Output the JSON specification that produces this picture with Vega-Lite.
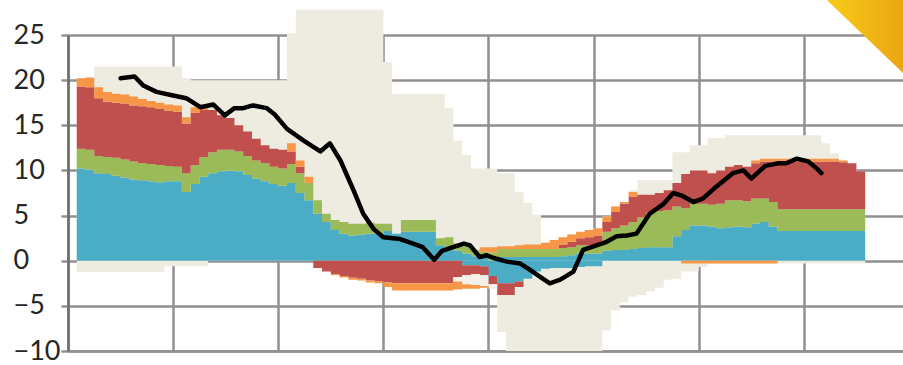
{
  "$schema": "https://vega.github.io/schema/vega-lite/v6.json",
  "width": 835,
  "height": 316,
  "autosize": "none",
  "padding": {"left": 68, "top": 35, "right": 0, "bottom": 14},
  "background": "white",
  "config": {
    "view": {"stroke": null},
    "axisY": {
      "grid": true, "gridColor": "#909090", "gridWidth": 2.5,
      "domain": true, "domainColor": "#6E6E6E", "domainWidth": 2.5,
      "ticks": true, "tickSize": 7, "tickColor": "#909090", "tickWidth": 2.5,
      "labelAlign": "left", "labelPadding": 48, "labelBaseline": "middle",
      "labelFont": "Lato", "labelFontSize": 27, "labelColor": "#262626",
      "title": null
    },
    "axisX": {
      "grid": true, "gridColor": "#909090", "gridWidth": 2.5,
      "domain": true, "domainColor": "#909090", "domainWidth": 2.5,
      "ticks": false, "labels": false, "title": null
    }
  },
  "datasets": {
    "steps": [
      {"i":1,"s1_blue":10.2,"s2_green":2.2,"s3_red":6.9,"s4_orange":0.9,"s5_blue_neg":0,"s6_red_neg":0,"s7_pale_neg":0,"s8_orange_neg":0,"lo":-1.25,"hi":20.2},
      {"i":2,"s1_blue":10.1,"s2_green":2.2,"s3_red":6.9,"s4_orange":1.1,"s5_blue_neg":0,"s6_red_neg":0,"s7_pale_neg":0,"s8_orange_neg":0,"lo":-1.25,"hi":20.3},
      {"i":3,"s1_blue":9.7,"s2_green":1.9,"s3_red":6.4,"s4_orange":1.2,"s5_blue_neg":0,"s6_red_neg":0,"s7_pale_neg":0,"s8_orange_neg":0,"lo":-1.25,"hi":21.5},
      {"i":4,"s1_blue":9.6,"s2_green":1.9,"s3_red":6.1,"s4_orange":1.1,"s5_blue_neg":0,"s6_red_neg":0,"s7_pale_neg":0,"s8_orange_neg":0,"lo":-1.25,"hi":21.5},
      {"i":5,"s1_blue":9.4,"s2_green":2.0,"s3_red":6.1,"s4_orange":1.0,"s5_blue_neg":0,"s6_red_neg":0,"s7_pale_neg":0,"s8_orange_neg":0,"lo":-1.25,"hi":21.5},
      {"i":6,"s1_blue":9.2,"s2_green":2.0,"s3_red":6.2,"s4_orange":1.0,"s5_blue_neg":0,"s6_red_neg":0,"s7_pale_neg":0,"s8_orange_neg":0,"lo":-1.25,"hi":21.5},
      {"i":7,"s1_blue":9.0,"s2_green":2.0,"s3_red":6.2,"s4_orange":1.0,"s5_blue_neg":0,"s6_red_neg":0,"s7_pale_neg":0,"s8_orange_neg":0,"lo":-1.25,"hi":21.5},
      {"i":8,"s1_blue":8.9,"s2_green":1.9,"s3_red":6.3,"s4_orange":0.8,"s5_blue_neg":0,"s6_red_neg":0,"s7_pale_neg":0,"s8_orange_neg":0,"lo":-1.25,"hi":21.5},
      {"i":9,"s1_blue":8.8,"s2_green":1.9,"s3_red":6.3,"s4_orange":0.7,"s5_blue_neg":0,"s6_red_neg":0,"s7_pale_neg":0,"s8_orange_neg":0,"lo":-1.25,"hi":21.5},
      {"i":10,"s1_blue":8.7,"s2_green":1.9,"s3_red":6.2,"s4_orange":0.7,"s5_blue_neg":0,"s6_red_neg":0,"s7_pale_neg":0,"s8_orange_neg":0,"lo":-1.25,"hi":21.5},
      {"i":11,"s1_blue":8.8,"s2_green":1.7,"s3_red":6.1,"s4_orange":0.7,"s5_blue_neg":0,"s6_red_neg":0,"s7_pale_neg":0,"s8_orange_neg":0,"lo":-0.6,"hi":21.5},
      {"i":12,"s1_blue":8.8,"s2_green":1.6,"s3_red":6.1,"s4_orange":0.7,"s5_blue_neg":0,"s6_red_neg":0,"s7_pale_neg":0,"s8_orange_neg":0,"lo":-0.6,"hi":21.5},
      {"i":13,"s1_blue":7.6,"s2_green":2.1,"s3_red":5.5,"s4_orange":0.7,"s5_blue_neg":0,"s6_red_neg":0,"s7_pale_neg":0,"s8_orange_neg":0,"lo":-0.6,"hi":20.2},
      {"i":14,"s1_blue":8.5,"s2_green":2.1,"s3_red":5.8,"s4_orange":0.6,"s5_blue_neg":0,"s6_red_neg":0,"s7_pale_neg":0,"s8_orange_neg":0,"lo":-0.6,"hi":20.0},
      {"i":15,"s1_blue":9.3,"s2_green":2.2,"s3_red":5.2,"s4_orange":0.3,"s5_blue_neg":0,"s6_red_neg":0,"s7_pale_neg":0,"s8_orange_neg":0,"lo":-0.6,"hi":20.0},
      {"i":16,"s1_blue":9.7,"s2_green":2.3,"s3_red":4.7,"s4_orange":0,"s5_blue_neg":0,"s6_red_neg":0,"s7_pale_neg":0,"s8_orange_neg":0,"lo":0,"hi":20.0},
      {"i":17,"s1_blue":9.9,"s2_green":2.4,"s3_red":3.8,"s4_orange":0,"s5_blue_neg":0,"s6_red_neg":0,"s7_pale_neg":0,"s8_orange_neg":0,"lo":0,"hi":20.0},
      {"i":18,"s1_blue":10.0,"s2_green":2.3,"s3_red":3.5,"s4_orange":0,"s5_blue_neg":0,"s6_red_neg":0,"s7_pale_neg":0,"s8_orange_neg":0,"lo":0,"hi":20.0},
      {"i":19,"s1_blue":9.9,"s2_green":2.2,"s3_red":2.9,"s4_orange":0,"s5_blue_neg":0,"s6_red_neg":0,"s7_pale_neg":0,"s8_orange_neg":0,"lo":0,"hi":20.0},
      {"i":20,"s1_blue":9.5,"s2_green":2.1,"s3_red":2.7,"s4_orange":0,"s5_blue_neg":0,"s6_red_neg":0,"s7_pale_neg":0,"s8_orange_neg":0,"lo":0,"hi":20.0},
      {"i":21,"s1_blue":9.1,"s2_green":2.0,"s3_red":2.4,"s4_orange":0,"s5_blue_neg":0,"s6_red_neg":0,"s7_pale_neg":0,"s8_orange_neg":0,"lo":0,"hi":20.0},
      {"i":22,"s1_blue":8.8,"s2_green":2.0,"s3_red":2.0,"s4_orange":0,"s5_blue_neg":0,"s6_red_neg":0,"s7_pale_neg":0,"s8_orange_neg":0,"lo":0,"hi":20.0},
      {"i":23,"s1_blue":8.5,"s2_green":1.9,"s3_red":2.0,"s4_orange":0,"s5_blue_neg":0,"s6_red_neg":0,"s7_pale_neg":0,"s8_orange_neg":0,"lo":0,"hi":20.0},
      {"i":24,"s1_blue":8.3,"s2_green":1.9,"s3_red":2.1,"s4_orange":0,"s5_blue_neg":0,"s6_red_neg":0,"s7_pale_neg":0,"s8_orange_neg":0,"lo":0,"hi":20.0},
      {"i":25,"s1_blue":8.6,"s2_green":2.1,"s3_red":1.4,"s4_orange":0.9,"s5_blue_neg":0,"s6_red_neg":0,"s7_pale_neg":0,"s8_orange_neg":0,"lo":0,"hi":25.2},
      {"i":26,"s1_blue":7.5,"s2_green":2.2,"s3_red":0.7,"s4_orange":0.7,"s5_blue_neg":0,"s6_red_neg":0,"s7_pale_neg":0,"s8_orange_neg":0,"lo":0,"hi":27.8},
      {"i":27,"s1_blue":6.7,"s2_green":1.9,"s3_red":0,"s4_orange":0.7,"s5_blue_neg":0,"s6_red_neg":0,"s7_pale_neg":0,"s8_orange_neg":0,"lo":0,"hi":27.8},
      {"i":28,"s1_blue":5.2,"s2_green":1.5,"s3_red":0,"s4_orange":0,"s5_blue_neg":0,"s6_red_neg":-0.8,"s7_pale_neg":0,"s8_orange_neg":0,"lo":0,"hi":27.8},
      {"i":29,"s1_blue":4.3,"s2_green":0.9,"s3_red":0,"s4_orange":0,"s5_blue_neg":0,"s6_red_neg":-1.2,"s7_pale_neg":0,"s8_orange_neg":0,"lo":0,"hi":27.8},
      {"i":30,"s1_blue":3.4,"s2_green":1.1,"s3_red":0,"s4_orange":0,"s5_blue_neg":0,"s6_red_neg":-1.5,"s7_pale_neg":0,"s8_orange_neg":-0.1,"lo":0,"hi":27.8},
      {"i":31,"s1_blue":3.0,"s2_green":1.3,"s3_red":0,"s4_orange":0,"s5_blue_neg":0,"s6_red_neg":-1.7,"s7_pale_neg":0,"s8_orange_neg":-0.15,"lo":0,"hi":27.8},
      {"i":32,"s1_blue":2.8,"s2_green":1.3,"s3_red":0,"s4_orange":0,"s5_blue_neg":0,"s6_red_neg":-1.9,"s7_pale_neg":0,"s8_orange_neg":-0.2,"lo":0,"hi":27.8},
      {"i":33,"s1_blue":2.9,"s2_green":1.2,"s3_red":0,"s4_orange":0,"s5_blue_neg":0,"s6_red_neg":-2.0,"s7_pale_neg":0,"s8_orange_neg":-0.2,"lo":0,"hi":27.8},
      {"i":34,"s1_blue":3.0,"s2_green":1.2,"s3_red":0,"s4_orange":0,"s5_blue_neg":0,"s6_red_neg":-2.2,"s7_pale_neg":0,"s8_orange_neg":-0.2,"lo":0,"hi":27.8},
      {"i":35,"s1_blue":3.0,"s2_green":1.1,"s3_red":0,"s4_orange":0,"s5_blue_neg":0,"s6_red_neg":-2.3,"s7_pale_neg":0,"s8_orange_neg":-0.2,"lo":0,"hi":27.8},
      {"i":36,"s1_blue":3.3,"s2_green":0.8,"s3_red":0,"s4_orange":0,"s5_blue_neg":0,"s6_red_neg":-2.4,"s7_pale_neg":0,"s8_orange_neg":-0.5,"lo":0,"hi":22.0},
      {"i":37,"s1_blue":3.0,"s2_green":0,"s3_red":0,"s4_orange":0,"s5_blue_neg":0,"s6_red_neg":-2.5,"s7_pale_neg":0,"s8_orange_neg":-0.8,"lo":0,"hi":18.5},
      {"i":38,"s1_blue":3.2,"s2_green":1.3,"s3_red":0,"s4_orange":0,"s5_blue_neg":0,"s6_red_neg":-2.5,"s7_pale_neg":0,"s8_orange_neg":-0.8,"lo":0,"hi":18.5},
      {"i":39,"s1_blue":3.2,"s2_green":1.3,"s3_red":0,"s4_orange":0,"s5_blue_neg":0,"s6_red_neg":-2.5,"s7_pale_neg":0,"s8_orange_neg":-0.8,"lo":0,"hi":18.5},
      {"i":40,"s1_blue":3.2,"s2_green":1.3,"s3_red":0,"s4_orange":0,"s5_blue_neg":0,"s6_red_neg":-2.5,"s7_pale_neg":0,"s8_orange_neg":-0.8,"lo":0,"hi":18.5},
      {"i":41,"s1_blue":3.2,"s2_green":1.3,"s3_red":0,"s4_orange":0,"s5_blue_neg":0,"s6_red_neg":-2.5,"s7_pale_neg":0,"s8_orange_neg":-0.8,"lo":0,"hi":18.5},
      {"i":42,"s1_blue":1.7,"s2_green":0.8,"s3_red":0,"s4_orange":0,"s5_blue_neg":0,"s6_red_neg":-2.5,"s7_pale_neg":0,"s8_orange_neg":-0.8,"lo":0,"hi":18.5},
      {"i":43,"s1_blue":1.4,"s2_green":1.2,"s3_red":0,"s4_orange":0,"s5_blue_neg":0,"s6_red_neg":-2.5,"s7_pale_neg":0,"s8_orange_neg":-0.8,"lo":0,"hi":16.9},
      {"i":44,"s1_blue":1.1,"s2_green":0.8,"s3_red":0,"s4_orange":0,"s5_blue_neg":0,"s6_red_neg":-1.8,"s7_pale_neg":-0.5,"s8_orange_neg":-0.9,"lo":0,"hi":13.3},
      {"i":45,"s1_blue":0.8,"s2_green":0.8,"s3_red":0,"s4_orange":0,"s5_blue_neg":-0.5,"s6_red_neg":-1.1,"s7_pale_neg":-1.0,"s8_orange_neg":-0.5,"lo":0,"hi":11.7},
      {"i":46,"s1_blue":0.5,"s2_green":0.7,"s3_red":0,"s4_orange":0,"s5_blue_neg":-0.5,"s6_red_neg":-1.0,"s7_pale_neg":-1.2,"s8_orange_neg":-0.4,"lo":0,"hi":10.2},
      {"i":47,"s1_blue":0.4,"s2_green":0.6,"s3_red":0,"s4_orange":0.5,"s5_blue_neg":-0.6,"s6_red_neg":-1.0,"s7_pale_neg":-1.2,"s8_orange_neg":-0.2,"lo":0,"hi":10.2},
      {"i":48,"s1_blue":0,"s2_green":0.9,"s3_red":0,"s4_orange":0.6,"s5_blue_neg":-1.7,"s6_red_neg":-0.9,"s7_pale_neg":-0.5,"s8_orange_neg":0,"lo":0,"hi":10.2},
      {"i":49,"s1_blue":0.4,"s2_green":0.9,"s3_red":0,"s4_orange":0.3,"s5_blue_neg":-2.5,"s6_red_neg":-1.3,"s7_pale_neg":0,"s8_orange_neg":0,"lo":-7.9,"hi":9.7},
      {"i":50,"s1_blue":0.4,"s2_green":0.9,"s3_red":0,"s4_orange":0.3,"s5_blue_neg":-2.5,"s6_red_neg":-1.3,"s7_pale_neg":0,"s8_orange_neg":0,"lo":-10,"hi":9.7},
      {"i":51,"s1_blue":0.4,"s2_green":0.9,"s3_red":0,"s4_orange":0.4,"s5_blue_neg":-2.3,"s6_red_neg":-0.6,"s7_pale_neg":0,"s8_orange_neg":0,"lo":-10,"hi":7.6},
      {"i":52,"s1_blue":0.4,"s2_green":0.9,"s3_red":0,"s4_orange":0.5,"s5_blue_neg":-2.0,"s6_red_neg":0,"s7_pale_neg":0,"s8_orange_neg":0,"lo":-10,"hi":6.4},
      {"i":53,"s1_blue":0.4,"s2_green":0.9,"s3_red":0,"s4_orange":0.5,"s5_blue_neg":-1.2,"s6_red_neg":0,"s7_pale_neg":0,"s8_orange_neg":0,"lo":-10,"hi":5.1},
      {"i":54,"s1_blue":0.4,"s2_green":0.9,"s3_red":0,"s4_orange":0.7,"s5_blue_neg":-0.9,"s6_red_neg":0,"s7_pale_neg":0,"s8_orange_neg":0,"lo":-10,"hi":2.0},
      {"i":55,"s1_blue":0.4,"s2_green":0.9,"s3_red":0,"s4_orange":1.0,"s5_blue_neg":-0.8,"s6_red_neg":0,"s7_pale_neg":0,"s8_orange_neg":0,"lo":-10,"hi":2.3},
      {"i":56,"s1_blue":0.5,"s2_green":0.9,"s3_red":0.4,"s4_orange":0.8,"s5_blue_neg":-0.8,"s6_red_neg":0,"s7_pale_neg":0,"s8_orange_neg":0,"lo":-10,"hi":2.6},
      {"i":57,"s1_blue":0.6,"s2_green":0.9,"s3_red":0.6,"s4_orange":0.8,"s5_blue_neg":-0.8,"s6_red_neg":0,"s7_pale_neg":0,"s8_orange_neg":0,"lo":-10,"hi":2.9},
      {"i":58,"s1_blue":0.8,"s2_green":0.9,"s3_red":0.8,"s4_orange":0.7,"s5_blue_neg":-0.7,"s6_red_neg":0,"s7_pale_neg":0,"s8_orange_neg":0,"lo":-10,"hi":3.2},
      {"i":59,"s1_blue":0.8,"s2_green":0.9,"s3_red":0.9,"s4_orange":0.8,"s5_blue_neg":-0.6,"s6_red_neg":0,"s7_pale_neg":0,"s8_orange_neg":0,"lo":-10,"hi":3.4},
      {"i":60,"s1_blue":0.8,"s2_green":0.9,"s3_red":1.1,"s4_orange":0.8,"s5_blue_neg":-0.6,"s6_red_neg":0,"s7_pale_neg":0,"s8_orange_neg":0,"lo":-10,"hi":3.6},
      {"i":61,"s1_blue":1.1,"s2_green":2.1,"s3_red":1.1,"s4_orange":0.6,"s5_blue_neg":0,"s6_red_neg":0,"s7_pale_neg":0,"s8_orange_neg":0,"lo":-7.7,"hi":4.9},
      {"i":62,"s1_blue":1.2,"s2_green":2.4,"s3_red":1.8,"s4_orange":0.6,"s5_blue_neg":0,"s6_red_neg":0,"s7_pale_neg":0,"s8_orange_neg":0,"lo":-5.5,"hi":6.0},
      {"i":63,"s1_blue":1.2,"s2_green":2.7,"s3_red":2.4,"s4_orange":0.2,"s5_blue_neg":0,"s6_red_neg":0,"s7_pale_neg":0,"s8_orange_neg":0,"lo":-4.6,"hi":6.5},
      {"i":64,"s1_blue":1.3,"s2_green":3.0,"s3_red":2.8,"s4_orange":0.5,"s5_blue_neg":0,"s6_red_neg":0,"s7_pale_neg":0,"s8_orange_neg":0,"lo":-4.0,"hi":7.8},
      {"i":65,"s1_blue":1.4,"s2_green":3.4,"s3_red":2.5,"s4_orange":0,"s5_blue_neg":0,"s6_red_neg":0,"s7_pale_neg":0,"s8_orange_neg":0,"lo":-3.8,"hi":8.9},
      {"i":66,"s1_blue":1.5,"s2_green":3.8,"s3_red":2.0,"s4_orange":0,"s5_blue_neg":0,"s6_red_neg":0,"s7_pale_neg":0,"s8_orange_neg":0,"lo":-3.4,"hi":8.9},
      {"i":67,"s1_blue":1.5,"s2_green":4.0,"s3_red":2.0,"s4_orange":0,"s5_blue_neg":0,"s6_red_neg":0,"s7_pale_neg":0,"s8_orange_neg":0,"lo":-3.0,"hi":8.9},
      {"i":68,"s1_blue":1.5,"s2_green":4.1,"s3_red":2.2,"s4_orange":0,"s5_blue_neg":0,"s6_red_neg":0,"s7_pale_neg":0,"s8_orange_neg":0,"lo":-2.1,"hi":8.9},
      {"i":69,"s1_blue":2.7,"s2_green":3.3,"s3_red":2.6,"s4_orange":0,"s5_blue_neg":0,"s6_red_neg":0,"s7_pale_neg":0,"s8_orange_neg":0,"lo":-2.0,"hi":12.0},
      {"i":70,"s1_blue":3.4,"s2_green":2.4,"s3_red":3.8,"s4_orange":0,"s5_blue_neg":0,"s6_red_neg":0,"s7_pale_neg":0,"s8_orange_neg":-0.3,"lo":-1.2,"hi":12.0},
      {"i":71,"s1_blue":3.9,"s2_green":2.4,"s3_red":3.7,"s4_orange":0,"s5_blue_neg":0,"s6_red_neg":0,"s7_pale_neg":0,"s8_orange_neg":-0.3,"lo":-1.2,"hi":12.8},
      {"i":72,"s1_blue":3.9,"s2_green":2.4,"s3_red":3.7,"s4_orange":0,"s5_blue_neg":0,"s6_red_neg":0,"s7_pale_neg":0,"s8_orange_neg":-0.3,"lo":-0.7,"hi":12.8},
      {"i":73,"s1_blue":3.8,"s2_green":2.4,"s3_red":3.5,"s4_orange":0,"s5_blue_neg":0,"s6_red_neg":0,"s7_pale_neg":0,"s8_orange_neg":-0.3,"lo":-0.3,"hi":13.6},
      {"i":74,"s1_blue":3.6,"s2_green":2.7,"s3_red":3.7,"s4_orange":0,"s5_blue_neg":0,"s6_red_neg":0,"s7_pale_neg":0,"s8_orange_neg":-0.3,"lo":-0.3,"hi":13.6},
      {"i":75,"s1_blue":3.7,"s2_green":3.0,"s3_red":3.7,"s4_orange":0,"s5_blue_neg":0,"s6_red_neg":0,"s7_pale_neg":0,"s8_orange_neg":-0.3,"lo":-0.3,"hi":13.9},
      {"i":76,"s1_blue":3.8,"s2_green":2.9,"s3_red":3.9,"s4_orange":0,"s5_blue_neg":0,"s6_red_neg":0,"s7_pale_neg":0,"s8_orange_neg":-0.3,"lo":-0.3,"hi":13.9},
      {"i":77,"s1_blue":3.7,"s2_green":2.9,"s3_red":3.8,"s4_orange":0,"s5_blue_neg":0,"s6_red_neg":0,"s7_pale_neg":0,"s8_orange_neg":-0.3,"lo":-0.3,"hi":13.9},
      {"i":78,"s1_blue":4.1,"s2_green":2.8,"s3_red":3.9,"s4_orange":0.3,"s5_blue_neg":0,"s6_red_neg":0,"s7_pale_neg":0,"s8_orange_neg":-0.3,"lo":-0.3,"hi":13.9},
      {"i":79,"s1_blue":4.3,"s2_green":2.6,"s3_red":4.1,"s4_orange":0.3,"s5_blue_neg":0,"s6_red_neg":0,"s7_pale_neg":0,"s8_orange_neg":-0.3,"lo":-0.3,"hi":13.9},
      {"i":80,"s1_blue":3.8,"s2_green":2.7,"s3_red":4.5,"s4_orange":0.3,"s5_blue_neg":0,"s6_red_neg":0,"s7_pale_neg":0,"s8_orange_neg":-0.3,"lo":-0.3,"hi":13.9},
      {"i":81,"s1_blue":3.3,"s2_green":2.4,"s3_red":5.3,"s4_orange":0.3,"s5_blue_neg":0,"s6_red_neg":0,"s7_pale_neg":0,"s8_orange_neg":0,"lo":-0.3,"hi":13.9},
      {"i":82,"s1_blue":3.3,"s2_green":2.4,"s3_red":5.3,"s4_orange":0.3,"s5_blue_neg":0,"s6_red_neg":0,"s7_pale_neg":0,"s8_orange_neg":0,"lo":-0.3,"hi":13.9},
      {"i":83,"s1_blue":3.3,"s2_green":2.4,"s3_red":5.3,"s4_orange":0.3,"s5_blue_neg":0,"s6_red_neg":0,"s7_pale_neg":0,"s8_orange_neg":0,"lo":-0.3,"hi":13.9},
      {"i":84,"s1_blue":3.3,"s2_green":2.4,"s3_red":5.3,"s4_orange":0.3,"s5_blue_neg":0,"s6_red_neg":0,"s7_pale_neg":0,"s8_orange_neg":0,"lo":-0.3,"hi":13.9},
      {"i":85,"s1_blue":3.3,"s2_green":2.4,"s3_red":5.3,"s4_orange":0.3,"s5_blue_neg":0,"s6_red_neg":0,"s7_pale_neg":0,"s8_orange_neg":0,"lo":-0.3,"hi":13.9},
      {"i":86,"s1_blue":3.3,"s2_green":2.4,"s3_red":5.3,"s4_orange":0.3,"s5_blue_neg":0,"s6_red_neg":0,"s7_pale_neg":0,"s8_orange_neg":0,"lo":-0.3,"hi":13.0},
      {"i":87,"s1_blue":3.3,"s2_green":2.4,"s3_red":5.3,"s4_orange":0.3,"s5_blue_neg":0,"s6_red_neg":0,"s7_pale_neg":0,"s8_orange_neg":0,"lo":-0.3,"hi":11.9},
      {"i":88,"s1_blue":3.3,"s2_green":2.4,"s3_red":5.2,"s4_orange":0.2,"s5_blue_neg":0,"s6_red_neg":0,"s7_pale_neg":0,"s8_orange_neg":0,"lo":-0.3,"hi":11.1},
      {"i":89,"s1_blue":3.3,"s2_green":2.4,"s3_red":5.1,"s4_orange":0,"s5_blue_neg":0,"s6_red_neg":0,"s7_pale_neg":0,"s8_orange_neg":0,"lo":-0.3,"hi":10.8},
      {"i":90,"s1_blue":3.3,"s2_green":2.4,"s3_red":4.2,"s4_orange":0,"s5_blue_neg":0,"s6_red_neg":0,"s7_pale_neg":0,"s8_orange_neg":0,"lo":-0.3,"hi":9.9},
      {"i":91,"s1_blue":3.3,"s2_green":2.4,"s3_red":4.2,"s4_orange":0,"s5_blue_neg":0,"s6_red_neg":0,"s7_pale_neg":0,"s8_orange_neg":0,"lo":-0.3,"hi":9.9}
    ],
    "trend": [
      {"t":6.0,"v":20.2},{"t":7.6,"v":20.4},{"t":8.6,"v":19.4},{"t":10.1,"v":18.7},
      {"t":12.0,"v":18.3},{"t":13.5,"v":18.0},{"t":15.1,"v":17.0},{"t":16.6,"v":17.3},
      {"t":17.9,"v":16.1},{"t":19.0,"v":16.9},{"t":20.0,"v":16.9},{"t":21.1,"v":17.2},
      {"t":22.7,"v":16.9},{"t":23.6,"v":16.2},{"t":25.0,"v":14.6},{"t":26.9,"v":13.3},
      {"t":28.8,"v":12.1},{"t":29.9,"v":13.0},{"t":31.1,"v":11.1},{"t":32.6,"v":7.8},
      {"t":33.7,"v":5.2},{"t":34.9,"v":3.5},{"t":36.0,"v":2.6},{"t":37.9,"v":2.4},
      {"t":39.4,"v":1.9},{"t":40.5,"v":1.5},{"t":41.8,"v":0.1},{"t":42.7,"v":1.1},
      {"t":43.6,"v":1.4},{"t":45.2,"v":1.9},{"t":45.9,"v":1.7},{"t":47.0,"v":0.4},
      {"t":47.8,"v":0.6},{"t":48.6,"v":0.3},{"t":50.1,"v":-0.1},{"t":51.6,"v":-0.3},
      {"t":52.7,"v":-1.0},{"t":53.9,"v":-1.8},{"t":55.0,"v":-2.5},{"t":56.2,"v":-2.1},
      {"t":57.7,"v":-1.2},{"t":58.8,"v":1.2},{"t":60.0,"v":1.6},{"t":61.5,"v":2.1},
      {"t":62.6,"v":2.7},{"t":63.8,"v":2.8},{"t":64.9,"v":3.0},{"t":66.4,"v":5.2},
      {"t":68.0,"v":6.3},{"t":69.1,"v":7.5},{"t":70.1,"v":7.2},{"t":71.4,"v":6.5},
      {"t":72.5,"v":6.9},{"t":74.0,"v":8.2},{"t":75.9,"v":9.7},{"t":77.1,"v":10.0},
      {"t":78.0,"v":9.1},{"t":79.6,"v":10.5},{"t":81.1,"v":10.8},{"t":82.0,"v":10.8},
      {"t":83.2,"v":11.3},{"t":84.5,"v":11.0},{"t":85.5,"v":10.2},{"t":86.0,"v":9.7}
    ],
    "corner": [
      {"t":86.6,"edge":28.9,"top":30},
      {"t":95.32,"edge":20.8,"top":30}
    ]
  },
  "layer": [
    {
      "data": {"name": "steps"},
      "mark": {"type": "area", "interpolate": "step-after", "color": "#EEECE1"},
      "encoding": {
        "x": {"field": "i", "type": "quantitative",
              "scale": {"domain": [0, 95.32], "nice": false, "zero": false},
              "axis": {"values": [0, 12, 24, 36, 48, 60, 72, 84]}},
        "y": {"field": "lo", "type": "quantitative",
              "scale": {"domain": [-10, 25], "nice": false},
              "axis": {"values": [-10, -5, 0, 5, 10, 15, 20, 25]}},
        "y2": {"field": "hi"}
      }
    },
    {
      "data": {"name": "steps"},
      "transform": [
        {"fold": ["s1_blue", "s2_green", "s3_red", "s4_orange", "s5_blue_neg", "s6_red_neg", "s7_pale_neg", "s8_orange_neg"],
         "as": ["series", "value"]}
      ],
      "mark": {"type": "area", "interpolate": "step-after"},
      "encoding": {
        "x": {"field": "i", "type": "quantitative"},
        "y": {"field": "value", "type": "quantitative", "stack": "zero"},
        "color": {
          "field": "series", "type": "nominal", "legend": null,
          "scale": {
            "domain": ["s1_blue", "s2_green", "s3_red", "s4_orange", "s5_blue_neg", "s6_red_neg", "s7_pale_neg", "s8_orange_neg"],
            "range": ["#4BACC6", "#9BBB59", "#C0504D", "#F79646", "#4BACC6", "#C0504D", "#F3F1EA", "#F79646"]
          }
        },
        "order": {"field": "series", "sort": "ascending"}
      }
    },
    {
      "data": {"name": "trend"},
      "mark": {"type": "line", "color": "#000000", "strokeWidth": 4.5, "strokeJoin": "round", "strokeCap": "round"},
      "encoding": {
        "x": {"field": "t", "type": "quantitative"},
        "y": {"field": "v", "type": "quantitative"}
      }
    },
    {
      "data": {"name": "corner"},
      "mark": {
        "type": "area",
        "color": {
          "gradient": "linear", "x1": 0, "x2": 1, "y1": 0, "y2": 0,
          "stops": [{"offset": 0, "color": "#F8CB18"}, {"offset": 1, "color": "#EBA612"}]
        }
      },
      "encoding": {
        "x": {"field": "t", "type": "quantitative"},
        "y": {"field": "edge", "type": "quantitative"},
        "y2": {"field": "top"}
      }
    }
  ]
}
